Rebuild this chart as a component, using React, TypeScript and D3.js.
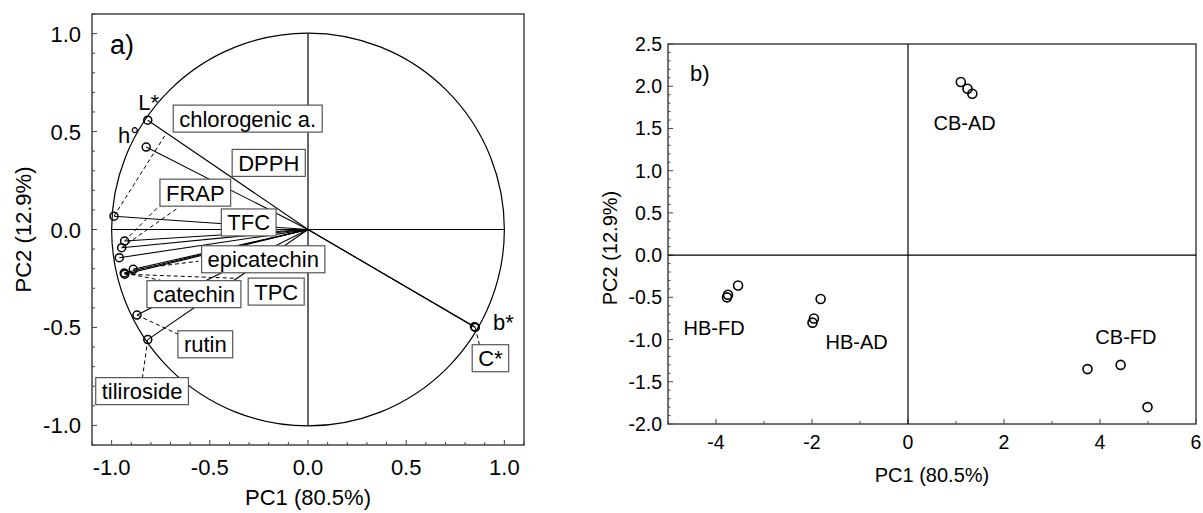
import { useEffect, useRef } from 'react';
import * as d3 from 'd3';

// loadings (panel a)
const varNames = ['L*', 'h°', 'chlorogenic a.', 'FRAP', 'DPPH', 'TFC', 'epicatechin', 'TPC', 'catechin', 'rutin', 'tiliroside', 'b*', 'C*'];
const loadPC1 = [-0.816, -0.824, -0.988, -0.934, -0.949, -0.961, -0.890, -0.933, -0.936, -0.871, -0.816, 0.848, 0.852];
const loadPC2 = [0.558, 0.421, 0.068, -0.059, -0.093, -0.144, -0.203, -0.228, -0.222, -0.437, -0.562, -0.496, -0.500];

// label placement for loadings (data units): centre of label, boxed or not, end of dashed leader
const labelX = [-0.812, -0.914, -0.307, -0.574, -0.200, -0.302, -0.228, -0.162, -0.581, -0.523, -0.845, 0.995, 0.929];
const labelY = [0.650, 0.480, 0.566, 0.188, 0.340, 0.036, -0.152, -0.317, -0.330, -0.586, -0.825, -0.470, -0.657];
const labelBoxed = [false, false, true, true, true, true, true, true, true, true, true, false, true];
const leaderX = [null, null, -0.721, -0.761, -0.660, null, -0.558, -0.371, -0.751, -0.665, -0.843, null, 0.873];
const leaderY = [null, null, 0.492, 0.117, 0.112, null, -0.162, -0.249, -0.259, -0.533, -0.756, null, -0.589];

// scores (panel b)
const scoreGroup = ['HB-FD', 'HB-FD', 'HB-FD', 'HB-AD', 'HB-AD', 'HB-AD', 'CB-AD', 'CB-AD', 'CB-AD', 'CB-FD', 'CB-FD', 'CB-FD'];
const scorePC1 = [-3.77, -3.75, -3.54, -1.82, -1.96, -1.99, 1.10, 1.24, 1.34, 3.74, 4.43, 4.99];
const scorePC2 = [-0.50, -0.47, -0.36, -0.52, -0.75, -0.80, 2.05, 1.97, 1.91, -1.35, -1.30, -1.80];

const groupNames = ['CB-AD', 'HB-FD', 'HB-AD', 'CB-FD'];
const groupLabelX = [1.18, -4.04, -1.07, 4.54];
const groupLabelY = [1.48, -0.95, -1.11, -1.05];

const ticksA = [-1, -0.5, 0, 0.5, 1];
const ticksBx = [-4, -2, 0, 2, 4, 6];
const ticksBy = [-2, -1.5, -1, -0.5, 0, 0.5, 1, 1.5, 2, 2.5];

const FONT = '"Liberation Sans", Arial, sans-serif';

const App = () => {
  const svgRef = useRef(null);

  useEffect(() => {
    const svg = d3.select(svgRef.current);
    svg.selectAll('*').remove();

    // ---------- panel a ----------
    const xa = d3.scaleLinear().domain([-1.1, 1.1]).range([92, 524]);
    const ya = d3.scaleLinear().domain([-1.1, 1.1]).range([445, 14]);
    const ga = svg.append('g');

    ga.append('rect')
      .attr('x', xa(-1.1)).attr('y', ya(1.1))
      .attr('width', xa(1.1) - xa(-1.1)).attr('height', ya(-1.1) - ya(1.1))
      .attr('fill', 'none').attr('stroke', '#444').attr('stroke-width', 1.5);

    // inward ticks
    d3.range(-11, 12).forEach(i => {
      const v = i / 10;
      const major = i % 5 === 0;
      const len = major ? 5 : 3;
      ga.append('line').attr('x1', xa(-1.1)).attr('x2', xa(-1.1) + len)
        .attr('y1', ya(v)).attr('y2', ya(v)).attr('stroke', '#444');
      ga.append('line').attr('x1', xa(v)).attr('x2', xa(v))
        .attr('y1', ya(-1.1)).attr('y2', ya(-1.1) - len).attr('stroke', '#444');
    });

    ga.selectAll('.ty').data(ticksA).enter().append('text')
      .attr('x', 81).attr('y', d => ya(d) + 8)
      .attr('text-anchor', 'end').style('font-size', '22px').style('font-family', FONT)
      .text(d => d3.format('.1f')(d).replace('−', '-'));
    ga.selectAll('.tx').data(ticksA).enter().append('text')
      .attr('x', d => xa(d)).attr('y', 475)
      .attr('text-anchor', 'middle').style('font-size', '22px').style('font-family', FONT)
      .text(d => d3.format('.1f')(d).replace('−', '-'));

    ga.append('text').attr('x', xa(0)).attr('y', 505).attr('text-anchor', 'middle')
      .style('font-size', '22px').style('font-family', FONT).text('PC1 (80.5%)');
    ga.append('text').attr('transform', `translate(31,${ya(0)}) rotate(-90)`)
      .attr('text-anchor', 'middle')
      .style('font-size', '22px').style('font-family', FONT).text('PC2 (12.9%)');

    ga.append('text').attr('x', 110).attr('y', 54)
      .style('font-size', '27px').style('font-family', FONT).text('a)');

    // unit circle + axes
    ga.append('circle').attr('cx', xa(0)).attr('cy', ya(0)).attr('r', xa(1) - xa(0))
      .attr('fill', 'none').attr('stroke', '#000').attr('stroke-width', 1.2);
    ga.append('line').attr('x1', xa(-1)).attr('x2', xa(1)).attr('y1', ya(0)).attr('y2', ya(0))
      .attr('stroke', '#000').attr('stroke-width', 1.2);
    ga.append('line').attr('x1', xa(0)).attr('x2', xa(0)).attr('y1', ya(1)).attr('y2', ya(-1))
      .attr('stroke', '#000').attr('stroke-width', 1.2);

    const idx = d3.range(varNames.length);

    // vectors
    ga.selectAll('.vec').data(idx).enter().append('line')
      .attr('x1', xa(0)).attr('y1', ya(0))
      .attr('x2', i => xa(loadPC1[i])).attr('y2', i => ya(loadPC2[i]))
      .attr('stroke', '#000').attr('stroke-width', 1.1);

    // leaders
    ga.selectAll('.lead').data(idx.filter(i => leaderX[i] !== null)).enter().append('line')
      .attr('x1', i => xa(loadPC1[i])).attr('y1', i => ya(loadPC2[i]))
      .attr('x2', i => xa(leaderX[i])).attr('y2', i => ya(leaderY[i]))
      .attr('stroke', '#000').attr('stroke-width', 1).attr('stroke-dasharray', '4,3');

    ga.selectAll('.pt').data(idx).enter().append('circle')
      .attr('cx', i => xa(loadPC1[i])).attr('cy', i => ya(loadPC2[i])).attr('r', 4)
      .attr('fill', 'none').attr('stroke', '#000').attr('stroke-width', 1.5);

    // labels
    idx.forEach(i => {
      const g = ga.append('g');
      const t = g.append('text')
        .attr('x', xa(labelX[i])).attr('y', ya(labelY[i]) + 8)
        .attr('text-anchor', 'middle').style('font-size', '22px').style('font-family', FONT)
        .text(varNames[i]);
      if (labelBoxed[i]) {
        const w = t.node().getComputedTextLength() + 12;
        g.insert('rect', 'text')
          .attr('x', xa(labelX[i]) - w / 2).attr('y', ya(labelY[i]) - 13.5)
          .attr('width', w).attr('height', 27)
          .attr('fill', '#fff').attr('stroke', '#555').attr('stroke-width', 1.2);
      }
    });

    // ---------- panel b ----------
    const xb = d3.scaleLinear().domain([-5, 6]).range([668, 1196]);
    const yb = d3.scaleLinear().domain([-2, 2.5]).range([424, 44]);
    const gb = svg.append('g');

    gb.append('rect')
      .attr('x', xb(-5)).attr('y', yb(2.5))
      .attr('width', xb(6) - xb(-5)).attr('height', yb(-2) - yb(2.5))
      .attr('fill', 'none').attr('stroke', '#444').attr('stroke-width', 1.5);

    d3.range(-20, 26).forEach(i => {
      const v = i / 10;
      const len = i % 5 === 0 ? 5 : 2.5;
      gb.append('line').attr('x1', xb(-5)).attr('x2', xb(-5) + len)
        .attr('y1', yb(v)).attr('y2', yb(v)).attr('stroke', '#444');
    });
    d3.range(-5, 7).forEach(v => {
      const len = v % 2 === 0 ? 5 : 3;
      gb.append('line').attr('x1', xb(v)).attr('x2', xb(v))
        .attr('y1', yb(-2)).attr('y2', yb(-2) - len).attr('stroke', '#444');
    });

    gb.selectAll('.ty').data(ticksBy).enter().append('text')
      .attr('x', 662).attr('y', d => yb(d) + 7)
      .attr('text-anchor', 'end').style('font-size', '19.5px').style('font-family', FONT)
      .text(d => d3.format('.1f')(d).replace('−', '-'));
    gb.selectAll('.tx').data(ticksBx).enter().append('text')
      .attr('x', d => xb(d)).attr('y', 449)
      .attr('text-anchor', 'middle').style('font-size', '19.5px').style('font-family', FONT)
      .text(d => String(d));

    gb.append('text').attr('x', (xb(-5) + xb(6)) / 2).attr('y', 482).attr('text-anchor', 'middle')
      .style('font-size', '20px').style('font-family', FONT).text('PC1 (80.5%)');
    gb.append('text').attr('transform', `translate(617,248) rotate(-90)`)
      .attr('text-anchor', 'middle')
      .style('font-size', '20px').style('font-family', FONT).text('PC2 (12.9%)');

    gb.append('text').attr('x', 690).attr('y', 81)
      .style('font-size', '22px').style('font-family', FONT).text('b)');

    gb.append('line').attr('x1', xb(-5)).attr('x2', xb(6)).attr('y1', yb(0)).attr('y2', yb(0))
      .attr('stroke', '#000').attr('stroke-width', 1.2);
    gb.append('line').attr('x1', xb(0)).attr('x2', xb(0)).attr('y1', yb(2.5)).attr('y2', yb(-2))
      .attr('stroke', '#000').attr('stroke-width', 1.2);

    gb.selectAll('.sc').data(scoreGroup.map((g, i) => i)).enter().append('circle')
      .attr('cx', i => xb(scorePC1[i])).attr('cy', i => yb(scorePC2[i])).attr('r', 4.5)
      .attr('fill', 'none').attr('stroke', '#000').attr('stroke-width', 1.6);

    gb.selectAll('.gl').data(groupNames.map((g, i) => i)).enter().append('text')
      .attr('x', i => xb(groupLabelX[i])).attr('y', i => yb(groupLabelY[i]))
      .attr('text-anchor', 'middle').style('font-size', '20px').style('font-family', FONT)
      .text(i => groupNames[i]);
  }, []);

  return (
    <svg ref={svgRef} width={1203} height={513}
      style={{ position: 'absolute', left: 0, top: 0, background: '#fff' }} />
  );
};

export default App;
